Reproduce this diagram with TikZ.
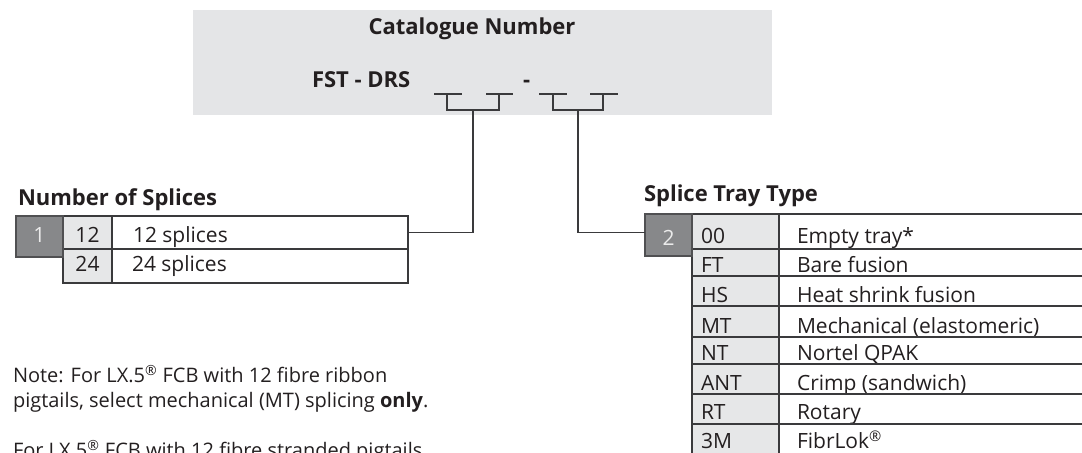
\documentclass[tikz,border=0pt]{standalone}
\usepackage{fontspec}
\setmainfont{Open Sans}
\definecolor{ink}{HTML}{231F20}
\definecolor{linec}{HTML}{3A3A3C}
\definecolor{catbg}{HTML}{E4E5E7}
\definecolor{codebg}{HTML}{E6E7E8}
\definecolor{darkbox}{HTML}{87888A}
\definecolor{darkedge}{HTML}{505052}
\newcommand\tabfont{\fontsize{15.75pt}{18pt}\selectfont}
\newcommand\ttlfont{\fontsize{16.5pt}{20pt}\selectfont\bfseries}
\newcommand\notefont{\fontsize{15pt}{18.75pt}\selectfont}
\tikzset{
  cellnode/.style={draw=linec, line width=0.9pt, inner sep=0pt, outer sep=0pt, anchor=north west},
  txt/.style={inner sep=0pt, outer sep=0pt, text=ink, font=\tabfont},
  ttl/.style={inner sep=0pt, outer sep=0pt, text=ink, font=\ttlfont},
  note/.style={inner sep=0pt, outer sep=0pt, text=ink, font=\notefont, anchor=base west},
  num/.style={inner sep=0pt, outer sep=0pt, text=white!92!black, font=\tabfont, anchor=base},
  conn/.style={draw=linec, line width=0.9pt},
}
\newcommand\cellbox[6]{\node[cellnode, fill=#6, minimum width={(#4-#2)*0.75pt}, minimum height={(#5-#3)*0.75pt}] (#1) at (#2,#3) {};}
\begin{document}
\begin{tikzpicture}[x=0.75pt,y=-0.75pt]
\useasboundingbox (0,0) rectangle (1082,453);
\begin{scope}
\clip (0,0) rectangle (1082,453);
% catalogue number box
\fill[catbg] (193,10) rectangle (772,115);
\node[ttl, anchor=base] (cat) at (472,35) {Catalogue Number};
\node[ttl, anchor=base west] (fst) at (312,88) {FST - DRS};
\node[ttl, anchor=base west] (dash) at (523,88) {-};
% brackets
\draw[conn] (434,94) -- (462,94);
\draw[conn] (486,94) -- (513,94);
\draw[conn] (447,94) -- (447,110) -- (499,110) -- (499,94);
\draw[conn] (539,94) -- (567,94);
\draw[conn] (590,94) -- (618,94);
\draw[conn] (553,94) -- (553,110) -- (603,110) -- (603,94);
\coordinate (b1) at (473,110);
\coordinate (b2) at (578,110);
% table 1
\node[ttl, anchor=base west] (t1title) at (18,205) {Number of Splices};
\cellbox{c12}{63}{216}{112}{249}{codebg}
\cellbox{d12}{112}{216}{408}{249}{white}
\cellbox{c24}{63}{249}{112}{283}{codebg}
\cellbox{d24}{112}{249}{408}{283}{white}
\node[cellnode, draw=darkedge, fill=darkbox, minimum width={47*0.75pt}, minimum height={41*0.75pt}] (box1) at (16,216) {};
\node[num] (n1) at (39.5,242) {1};
\node[txt, anchor=base] (c12t) at (87.5,242) {12};
\node[txt, anchor=base] (c24t) at (87.5,271) {24};
\node[txt, anchor=base west] (d12t) at (133,242) {12 splices};
\node[txt, anchor=base west] (d24t) at (132,271) {24 splices};
% table 2
\node[ttl, anchor=base west] (t2title) at (644,201) {Splice Tray Type};
\foreach \ta/\tb/\bl/\code/\desc [count=\i] in {
  214/249/243/00/Empty tray*,
  249/276/272/FT/Bare fusion,
  276/306/302/HS/Heat shrink fusion,
  306/337/333/MT/Mechanical (elastomeric),
  337/364/360/NT/Nortel QPAK,
  364/394/390/ANT/Crimp (sandwich),
  394/424/419/RT/Rotary,
  424/470/448/3M/FibrLok\textsuperscript{®}}{
  \cellbox{c2\i}{692}{\ta}{779}{\tb}{codebg}
  \cellbox{d2\i}{779}{\ta}{1095}{\tb}{white}
  \node[txt, anchor=base west] (c2t\i) at (701,\bl) {\code};
  \node[txt, anchor=base west] (d2t\i) at (797,\bl) {\desc};
}
\node[cellnode, draw=darkedge, fill=darkbox, minimum width={47*0.75pt}, minimum height={42*0.75pt}] (box2) at (645,214) {};
\node[num] (n2) at (668.5,245) {2};
% connectors
\draw[conn] (b1) |- (d12.east);
\draw[conn] (b2) |- (box2.west |- d12.east);
% notes
\node[note] (note1) at (13,382) {Note: For LX.5\textsuperscript{®} FCB with 12 fibre ribbon};
\node[note] (note2) at (13,407) {pigtails, select mechanical (MT) splicing \textbf{only}.};
\node[note] (note3) at (13,457) {For LX.5\textsuperscript{®} FCB with 12 fibre stranded pigtails,};
\end{scope}
\end{tikzpicture}
\end{document}
